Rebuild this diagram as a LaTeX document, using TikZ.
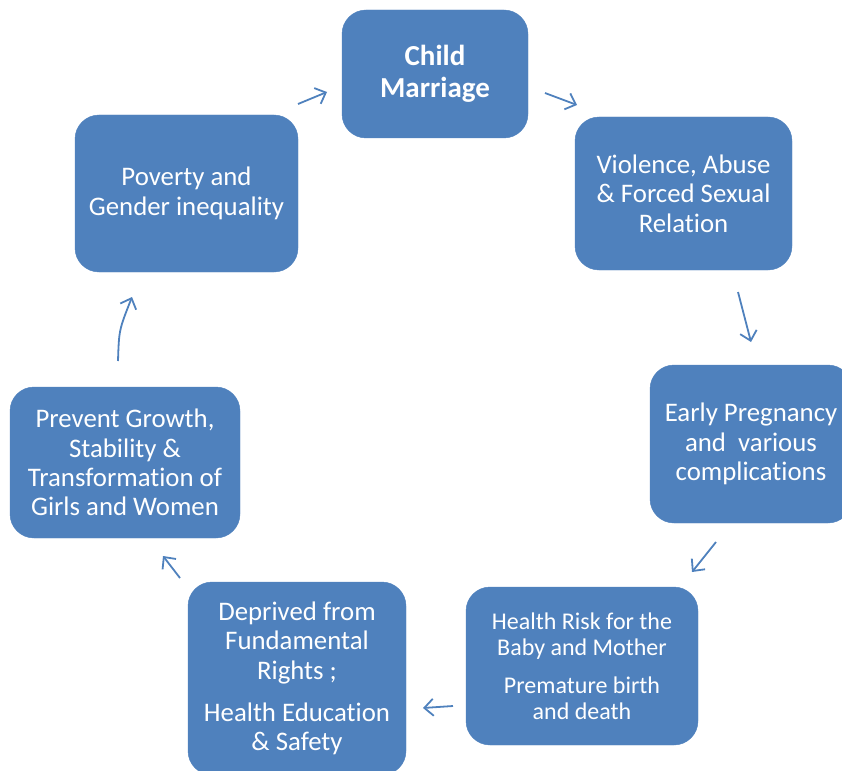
\documentclass[tikz,border=0pt]{standalone}
\usepackage{fontspec}
\setmainfont[Ligatures={NoCommon,NoRare,NoDiscretionary}]{Carlito}
\usetikzlibrary{arrows.meta}
\definecolor{boxblue}{HTML}{4F81BD}
\begin{document}
\begin{tikzpicture}[x=1pt,y=-1pt,
  box/.style={fill=boxblue,draw=boxblue,rounded corners=24pt,inner sep=0pt,
    text=white,align=center,font=\fontsize{26.8}{29.3}\selectfont},
  conn/.style={draw=boxblue,line width=1.8pt,-{Straight Barb[length=9pt,width=17pt,line width=1.8pt]}}]
\useasboundingbox (0,0) rectangle (842,770);
\clip (0,0) rectangle (842,770);
\node[box,minimum width=186pt,minimum height=128pt,font=\fontsize{29}{32}\selectfont\bfseries] (child) at (435,74) {Child\\Marriage};
\node[box,minimum width=217pt,minimum height=153pt] (viol) at (683.5,193.5) {Violence, Abuse\\\& Forced Sexual\\Relation};
\node[box,minimum width=202pt,minimum height=158pt] (early) at (751,444) {Early Pregnancy\\and\ \ various\\complications};
\node[box,minimum width=232pt,minimum height=158pt,font=\fontsize{24}{26}\selectfont] (health) at (582,666) {Health Risk for the\\Baby and Mother\\[12pt]Premature birth\\and death};
\node[box,minimum width=218pt,minimum height=193pt] (depr) at (297,678.5) {Deprived from\\Fundamental\\Rights ;\\[13pt]Health Education\\\& Safety};
\node[box,minimum width=230pt,minimum height=151pt] (prev) at (125,462.5) {Prevent Growth,\\Stability \&\\Transformation of\\Girls and Women};
\node[box,minimum width=223pt,minimum height=157pt] (pov) at (186.5,193.5) {Poverty and\\Gender inequality};
% arrow end points
\coordinate (a1s) at (298,104); \coordinate (a1e) at (327,92);
\coordinate (a2s) at (545,93); \coordinate (a2e) at (577,105);
\coordinate (a3s) at (738,292); \coordinate (a3e) at (751,342);
\coordinate (a4s) at (716,542); \coordinate (a4e) at (692,572);
\coordinate (a5s) at (453,706); \coordinate (a5e) at (423,708);
\coordinate (a6s) at (180,578); \coordinate (a6e) at (163,556);
\coordinate (a7s) at (118,361); \coordinate (a7e) at (132,297);
\draw[conn] (a1s) -- (a1e);
\draw[conn] (a2s) -- (a2e);
\draw[conn] (a3s) -- (a3e);
\draw[conn] (a4s) -- (a4e);
\draw[conn] (a5s) -- (a5e);
\draw[conn] (a6s) -- (a6e);
\draw[conn] (a7s) .. controls (119,330) .. (a7e);
\end{tikzpicture}
\end{document}
